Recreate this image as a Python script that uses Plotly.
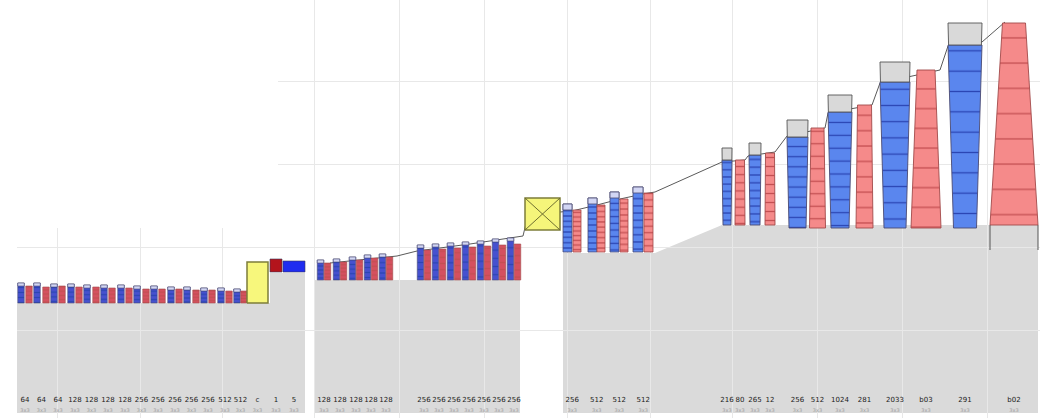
import plotly.graph_objects as go

# ---------------- data (x in axis units, y in value units) ----------------
# Group A: small alternating blue / red layers
A_x = [21, 29, 37, 46, 54, 62, 71, 79, 87, 96, 104, 112, 121, 129, 137, 146,
       154, 162, 171, 179, 187, 196, 204, 212, 221, 229, 237, 244]
A_kind = ["b", "r"] * 14
A_top = [130, 127, 130, 126, 129, 127, 129, 126, 128, 126, 128, 125, 128, 125,
         127, 124, 127, 124, 126, 124, 126, 123, 125, 123, 125, 122, 124, 122]
A_bottom = 110
A_lab = ["64", "64", "64", "128", "128", "128", "128", "256", "256", "256",
         "256", "256", "512", "512"]

# Group A end: pooling box and two blocks
A_box = dict(x=257.5, w=21, y0=110, y1=151)
A_blocks_x = [276, 294]
A_blocks_w = [12, 22]
A_blocks_y0 = [141, 141]
A_blocks_y1 = [154, 152]
A_blocks_col = ["#b3141c", "#1f2cf0"]
A_tail_lab = ["c", "1", "5"]

# Group B
B_x = [320.5, 327.5, 336.5, 343.5, 352.5, 359.5, 367.5, 374.5, 382.5, 389.5,
       420.5, 427.5, 435.5, 442.5, 450.5, 457.5, 465.5, 472.5, 480.5, 487.5,
       495.5, 502.5, 510.5, 517.5]
B_kind = ["b", "r"] * 12
B_top = [153, 150, 154, 151, 156, 153, 158, 155, 159, 156,
         168, 163, 169, 164, 170, 165, 171, 166, 172, 167, 174, 168, 175, 169]
B_bottom = 133
B_lab = ["128", "128", "128", "128", "128",
         "256", "256", "256", "256", "256", "256", "256"]

# X box
X_box = dict(x=542.5, w=35, y0=183, y1=215)

# Group C
C_x = [567.5, 577, 592.5, 601, 614.5, 624, 638, 648.5]
C_w = [9, 8, 9, 8, 9, 8, 10, 9]
C_kind = ["b", "r"] * 4
C_top = [209, 203, 215, 208, 221, 214, 226, 220]
C_bottom = 161
C_lab = ["256", "512", "512", "512"]

# Group D (large, tapered layers)
D_x = [727, 740, 755, 770, 797.5, 817.5, 840, 864.5, 895, 926, 965, 1014]
D_wt = [10, 9, 12, 9, 21, 13, 24, 14, 30, 18, 34, 23]
D_wb = [8, 10, 10, 10, 17, 16, 18, 17, 22, 30, 23, 48]
D_kind = ["b", "r"] * 6
D_top = [265, 253, 270, 260, 293, 285, 318, 308, 351, 343, 390, 390]
D_bottom = [188, 188, 188, 188, 185, 185, 185, 185, 185, 185, 185, 188]
D_cap = [12, 0, 12, 0, 17, 0, 17, 0, 20, 0, 22, 0]
D_lab = ["216", "80", "265", "12", "256", "512", "1024", "281", "2033", "b03", "291", "b02"]
D_tail = 25

# Connecting trend line
L_x = [330, 397, 417, 470, 523, 528, 560, 572, 597, 620, 643, 655,
       722, 745, 748, 775, 787, 825, 828, 872, 880, 940, 948, 982, 1005]
L_y = [150, 157, 162, 169, 177, 198, 201, 202, 208, 214, 219, 221,
       251, 253, 257, 261, 277, 285, 300, 308, 330, 343, 367, 371, 391]

# Gray background regions
G_A_x = [17, 17, 270, 270, 305, 305]
G_A_y = [0, 110, 110, 140, 140, 0]
G_B_x = [315, 315, 520, 520]
G_B_y = [0, 133, 133, 0]
G_C_x = [563, 563, 655, 722, 1038, 1038]
G_C_y = [0, 160, 160, 188, 188, 0]

# grid positions
GRID_X = [57, 140, 222, 314, 399, 484, 567, 650, 732, 817, 902, 987]
GRID_Y = [83, 166, 249, 332]

# ---------------- styles ----------------
BLUE, BLUE_ST, BLUE_ED = "#5a86ee", "#2b46b4", "#4a4a72"
RED, RED_ST, RED_ED = "#f58a8a", "#c44f52", "#a24a4a"
BLUE_S, RED_S = "#4651cf", "#d5505f"
CAP_S, CAP_L = "#d2d6f4", "#d9d9d9"

fig = go.Figure()


def poly(xc, wt, wb, y0, y1, fill, edge, ew=0.8, stripe=None, nseg=0):
    xs = [xc - wb / 2, xc + wb / 2, xc + wt / 2, xc - wt / 2, xc - wb / 2]
    ys = [y0, y0, y1, y1, y0]
    kw = {}
    if stripe and nseg:
        size = max((y1 - y0) / nseg, 2.5)
        kw["fillpattern"] = dict(shape="-", size=size, solidity=min(0.45, 1.3 / size),
                                 fgcolor=stripe, bgcolor=fill, fillmode="replace")
    fig.add_trace(go.Scatter(x=xs, y=ys, mode="lines", fill="toself", fillcolor=fill,
                             line=dict(color=edge, width=ew), hoverinfo="skip",
                             showlegend=False, **kw))


# trend line (behind the layers)
fig.add_trace(go.Scatter(x=L_x, y=L_y, mode="lines", line=dict(color="#5a5a5a", width=1),
                         hoverinfo="skip", showlegend=False))

# group A
for x, k, t in zip(A_x, A_kind, A_top):
    if k == "b":
        poly(x, 6.5, 6.5, A_bottom, t, BLUE_S, BLUE_ED, 0.6, BLUE_ST, 4)
        poly(x, 6.5, 6.5, t - 3, t, CAP_S, BLUE_ED, 0.6)
    else:
        poly(x, 6.5, 6.5, A_bottom, t, RED_S, RED_ED, 0.6, RED_ST, 4)
poly(A_box["x"], A_box["w"], A_box["w"], A_box["y0"], A_box["y1"], "#f7f77c", "#7d7d3a", 1.5)
for x, w, y0, y1, c in zip(A_blocks_x, A_blocks_w, A_blocks_y0, A_blocks_y1, A_blocks_col):
    poly(x, w, w, y0, y1, c, "#3a3a5a", 0.6)

# group B
for x, k, t in zip(B_x, B_kind, B_top):
    if k == "b":
        poly(x, 6.5, 6.5, B_bottom, t, BLUE_S, BLUE_ED, 0.6, BLUE_ST, 5)
        poly(x, 6.5, 6.5, t - 3, t, CAP_S, BLUE_ED, 0.6)
    else:
        poly(x, 6.5, 6.5, B_bottom, t, RED_S, RED_ED, 0.6, RED_ST, 5)

# X box
poly(X_box["x"], X_box["w"], X_box["w"], X_box["y0"], X_box["y1"], "#f5f57a", "#7d7d3a", 1.5)
xl, xr = X_box["x"] - X_box["w"] / 2, X_box["x"] + X_box["w"] / 2
fig.add_trace(go.Scatter(x=[xl, xr, None, xl, xr], y=[X_box["y0"], X_box["y1"], None, X_box["y1"], X_box["y0"]],
                         mode="lines", line=dict(color="#6e6e30", width=1), hoverinfo="skip", showlegend=False))

# group C
for x, w, k, t in zip(C_x, C_w, C_kind, C_top):
    if k == "b":
        poly(x, w, w, C_bottom, t, BLUE, BLUE_ED, 0.8, BLUE_ST, 9)
        poly(x, w, w, t - 6, t, CAP_S, BLUE_ED, 0.8)
    else:
        poly(x, w, w, C_bottom, t, RED, RED_ED, 0.8, RED_ST, 9)

# group D
for x, wt, wb, k, t, b, cap in zip(D_x, D_wt, D_wb, D_kind, D_top, D_bottom, D_cap):
    if k == "b":
        poly(x, wt, wb, b, t - cap, BLUE, BLUE_ED, 0.9, BLUE_ST, 9)
        poly(x, wt, wt - (wt - wb) * cap / (t - b), t - cap, t, CAP_L, "#555555", 0.9)
    else:
        poly(x, wt, wb, b, t, RED, RED_ED, 0.9, RED_ST, 8)

# tail lines under last layer
lx, rx, yb = D_x[-1] - D_wb[-1] / 2, D_x[-1] + D_wb[-1] / 2, D_bottom[-1]
fig.add_trace(go.Scatter(x=[lx, lx, None, rx, rx], y=[yb, yb - D_tail, None, yb, yb - D_tail],
                         mode="lines", line=dict(color="#555555", width=1), hoverinfo="skip", showlegend=False))

# labels: one per blue/red pair in the dense groups, one per layer in group D
pair_x = lambda xs: [(xs[i] + xs[i + 1]) / 2 for i in range(0, len(xs), 2)]
lab_x = pair_x(A_x) + [A_box["x"]] + A_blocks_x + pair_x(B_x) + pair_x(C_x) + D_x
lab_t = A_lab + A_tail_lab + B_lab + C_lab + D_lab
fig.add_trace(go.Scatter(x=lab_x, y=[13] * len(lab_x), mode="text", text=lab_t,
                         textfont=dict(size=7, color="#1a1a1a", family="DejaVu Sans"),
                         cliponaxis=False, hoverinfo="skip", showlegend=False))
fig.add_trace(go.Scatter(x=lab_x, y=[2] * len(lab_x), mode="text", text=["3x3"] * len(lab_x),
                         textfont=dict(size=5, color="#a0a0a0", family="DejaVu Sans"),
                         cliponaxis=False, hoverinfo="skip", showlegend=False))

# background regions (below grid)
shapes = []
for gx, gy in [(G_A_x, G_A_y), (G_B_x, G_B_y), (G_C_x, G_C_y)]:
    path = "M " + " L ".join(f"{a},{b}" for a, b in zip(gx, gy)) + " Z"
    shapes.append(dict(type="path", path=path, xref="x", yref="y", layer="below",
                       fillcolor="#dadada", line=dict(width=0)))
# blank top-left corner (no grid)
shapes.append(dict(type="rect", xref="x", yref="y", x0=17, x1=278, y0=185, y1=413,
                   layer="between", fillcolor="white", line=dict(width=0)))

fig.update_layout(
    width=1050, height=418,
    margin=dict(l=17, r=10, t=0, b=0),
    paper_bgcolor="white", plot_bgcolor="white",
    shapes=shapes,
    xaxis=dict(range=[17, 1040], tickvals=GRID_X, showticklabels=False, ticks="",
               showgrid=True, gridcolor="#e8e8e8", gridwidth=1, zeroline=False, showline=False),
    yaxis=dict(range=[-5, 413], tickvals=GRID_Y, showticklabels=False, ticks="",
               showgrid=True, gridcolor="#e8e8e8", gridwidth=1, zeroline=False, showline=False),
)

fig.write_html("out.html", config={"displayModeBar": False},
               post_script="document.body.style.margin='0';")
